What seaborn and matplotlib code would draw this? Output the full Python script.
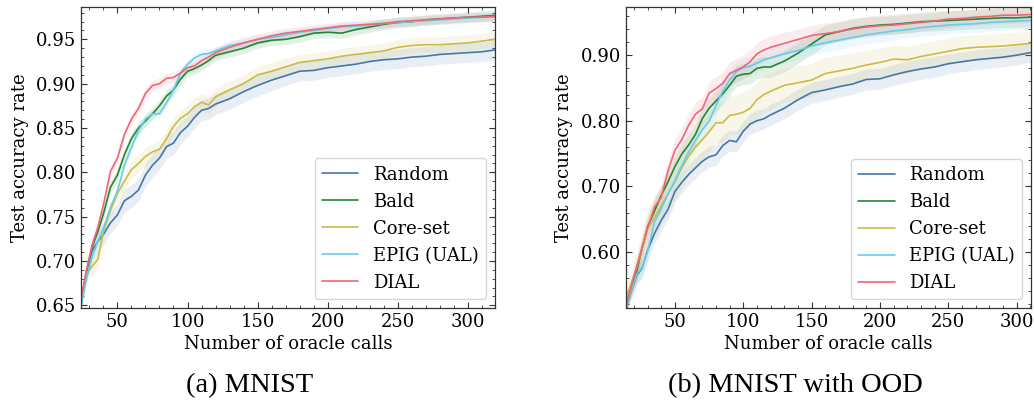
import numpy as np
import pandas as pd
import matplotlib
matplotlib.use("Agg")
import matplotlib.pyplot as plt
from matplotlib.ticker import MultipleLocator
import seaborn as sns

# ---------------- data ----------------
methods = ["Random", "Bald", "Core-set", "EPIG (UAL)", "DIAL"]
colors = ["#4477AA", "#228833", "#CCBB44", "#66CCEE", "#EE6677"]

# Panel (a) MNIST
x_a = [24, 28, 32, 36, 40, 45, 50, 55, 60, 65, 70, 75, 80, 85, 90, 95, 100, 105, 110, 115,
       120, 130, 140, 150, 160, 170, 180, 190, 200, 210, 220, 230, 240, 250, 260, 270, 280,
       290, 300, 310, 319]
random_a = [0.650, 0.690, 0.712, 0.722, 0.730, 0.743, 0.752, 0.768, 0.773, 0.780, 0.797, 0.808,
            0.816, 0.829, 0.833, 0.845, 0.852, 0.862, 0.870, 0.872, 0.877, 0.883, 0.891, 0.898,
            0.904, 0.909, 0.914, 0.915, 0.918, 0.920, 0.922, 0.925, 0.927, 0.928, 0.930, 0.931,
            0.933, 0.934, 0.935, 0.936, 0.938]
bald_a = [0.655, 0.688, 0.716, 0.733, 0.753, 0.783, 0.797, 0.820, 0.838, 0.850, 0.858, 0.866,
          0.875, 0.886, 0.893, 0.905, 0.914, 0.917, 0.921, 0.926, 0.932, 0.936, 0.940, 0.946,
          0.949, 0.950, 0.953, 0.957, 0.958, 0.957, 0.961, 0.964, 0.967, 0.969, 0.970, 0.972,
          0.973, 0.974, 0.975, 0.976, 0.977]
coreset_a = [0.655, 0.685, 0.694, 0.702, 0.733, 0.757, 0.776, 0.790, 0.803, 0.810, 0.818, 0.823,
             0.826, 0.838, 0.852, 0.861, 0.866, 0.874, 0.879, 0.876, 0.885, 0.893, 0.900, 0.910,
             0.914, 0.919, 0.924, 0.926, 0.928, 0.931, 0.933, 0.935, 0.937, 0.941, 0.943, 0.944,
             0.944, 0.945, 0.946, 0.948, 0.950]
epig_a = [0.648, 0.680, 0.705, 0.722, 0.737, 0.760, 0.779, 0.808, 0.828, 0.847, 0.860, 0.866,
          0.866, 0.878, 0.893, 0.912, 0.922, 0.929, 0.933, 0.934, 0.937, 0.943, 0.946, 0.950,
          0.952, 0.955, 0.958, 0.960, 0.962, 0.964, 0.965, 0.966, 0.968, 0.969, 0.970, 0.971,
          0.972, 0.973, 0.974, 0.975, 0.975]
dial_a = [0.658, 0.690, 0.718, 0.738, 0.763, 0.801, 0.816, 0.843, 0.860, 0.872, 0.889, 0.898,
          0.900, 0.906, 0.907, 0.912, 0.918, 0.920, 0.926, 0.930, 0.935, 0.941, 0.946, 0.950,
          0.954, 0.957, 0.959, 0.961, 0.963, 0.965, 0.966, 0.967, 0.968, 0.970, 0.971, 0.972,
          0.973, 0.974, 0.975, 0.975, 0.976]
# std bands (a)
random_a_sd = [0.006, 0.010, 0.012, 0.012, 0.012, 0.012, 0.012, 0.013, 0.013, 0.013, 0.013, 0.013,
               0.013, 0.013, 0.013, 0.013, 0.012, 0.012, 0.012, 0.012, 0.012, 0.012, 0.012, 0.012,
               0.012, 0.011, 0.011, 0.011, 0.011, 0.011, 0.011, 0.011, 0.011, 0.011, 0.011, 0.011,
               0.011, 0.011, 0.011, 0.011, 0.011]
bald_a_sd = [0.004, 0.006, 0.007, 0.007, 0.007, 0.007, 0.007, 0.007, 0.007, 0.007, 0.007, 0.007,
             0.007, 0.007, 0.007, 0.007, 0.006, 0.006, 0.006, 0.006, 0.006, 0.006, 0.006, 0.006,
             0.006, 0.006, 0.006, 0.006, 0.006, 0.006, 0.006, 0.006, 0.006, 0.006, 0.006, 0.006,
             0.006, 0.006, 0.006, 0.006, 0.006]
coreset_a_sd = [0.006, 0.009, 0.010, 0.010, 0.010, 0.010, 0.010, 0.010, 0.010, 0.010, 0.010, 0.010,
                0.010, 0.010, 0.010, 0.010, 0.010, 0.010, 0.010, 0.010, 0.010, 0.010, 0.010, 0.010,
                0.010, 0.010, 0.009, 0.009, 0.009, 0.009, 0.009, 0.009, 0.009, 0.009, 0.009, 0.009,
                0.009, 0.009, 0.009, 0.009, 0.009]
epig_a_sd = [0.004, 0.005, 0.005, 0.005, 0.005, 0.005, 0.005, 0.005, 0.005, 0.005, 0.005, 0.005,
             0.005, 0.005, 0.005, 0.005, 0.005, 0.005, 0.005, 0.005, 0.005, 0.005, 0.005, 0.005,
             0.005, 0.005, 0.005, 0.005, 0.005, 0.005, 0.005, 0.005, 0.005, 0.005, 0.005, 0.005,
             0.005, 0.005, 0.005, 0.005, 0.005]
dial_a_sd = [0.004, 0.006, 0.006, 0.006, 0.006, 0.006, 0.006, 0.006, 0.006, 0.006, 0.006, 0.006,
             0.006, 0.006, 0.006, 0.006, 0.006, 0.006, 0.006, 0.006, 0.006, 0.006, 0.006, 0.006,
             0.006, 0.006, 0.005, 0.005, 0.005, 0.005, 0.005, 0.005, 0.005, 0.005, 0.005, 0.005,
             0.005, 0.005, 0.005, 0.005, 0.005]

# Panel (b) MNIST with OOD
x_b = [14, 18, 22, 26, 30, 35, 40, 45, 50, 55, 60, 65, 70, 75, 80, 85, 90, 95, 100, 105, 110,
       115, 120, 130, 140, 150, 160, 170, 180, 190, 200, 210, 220, 230, 240, 250, 260, 270, 280,
       290, 300, 310]
random_b = [0.512, 0.540, 0.564, 0.575, 0.602, 0.628, 0.648, 0.665, 0.692, 0.706, 0.718, 0.728,
            0.738, 0.745, 0.748, 0.762, 0.770, 0.768, 0.784, 0.795, 0.800, 0.803, 0.809, 0.819,
            0.832, 0.843, 0.847, 0.852, 0.856, 0.863, 0.864, 0.870, 0.875, 0.879, 0.882, 0.887,
            0.890, 0.893, 0.895, 0.897, 0.900, 0.904]
bald_b = [0.518, 0.545, 0.570, 0.605, 0.638, 0.662, 0.686, 0.707, 0.730, 0.749, 0.763, 0.779,
          0.803, 0.819, 0.830, 0.841, 0.854, 0.868, 0.871, 0.872, 0.880, 0.882, 0.882, 0.891,
          0.903, 0.917, 0.931, 0.936, 0.941, 0.944, 0.946, 0.947, 0.949, 0.951, 0.952, 0.953,
          0.954, 0.955, 0.956, 0.957, 0.957, 0.958]
coreset_b = [0.528, 0.552, 0.576, 0.605, 0.636, 0.652, 0.670, 0.688, 0.707, 0.728, 0.746, 0.760,
             0.771, 0.783, 0.797, 0.797, 0.808, 0.810, 0.813, 0.819, 0.832, 0.840, 0.845, 0.854,
             0.858, 0.862, 0.872, 0.876, 0.880, 0.885, 0.889, 0.894, 0.893, 0.898, 0.902, 0.906,
             0.910, 0.912, 0.913, 0.914, 0.916, 0.918]
epig_b = [0.512, 0.540, 0.566, 0.576, 0.600, 0.645, 0.665, 0.688, 0.709, 0.731, 0.752, 0.770,
          0.786, 0.799, 0.823, 0.845, 0.862, 0.875, 0.881, 0.883, 0.888, 0.893, 0.896, 0.902,
          0.907, 0.914, 0.919, 0.923, 0.927, 0.931, 0.934, 0.937, 0.939, 0.942, 0.944, 0.946,
          0.947, 0.948, 0.950, 0.951, 0.952, 0.953]
dial_b = [0.514, 0.547, 0.577, 0.607, 0.635, 0.668, 0.683, 0.724, 0.755, 0.771, 0.793, 0.810,
          0.818, 0.842, 0.849, 0.857, 0.872, 0.877, 0.882, 0.890, 0.902, 0.908, 0.912, 0.918,
          0.924, 0.930, 0.933, 0.936, 0.940, 0.943, 0.945, 0.946, 0.948, 0.950, 0.952, 0.955,
          0.956, 0.958, 0.959, 0.961, 0.961, 0.962]
# std bands (b)
random_b_sd = [0.010, 0.012, 0.014, 0.015, 0.016, 0.016, 0.016, 0.016, 0.016, 0.016, 0.016, 0.016,
               0.016, 0.016, 0.016, 0.016, 0.016, 0.016, 0.016, 0.016, 0.016, 0.016, 0.016, 0.016,
               0.016, 0.016, 0.016, 0.016, 0.016, 0.016, 0.016, 0.016, 0.016, 0.016, 0.016, 0.015,
               0.015, 0.015, 0.015, 0.015, 0.015, 0.015]
bald_b_sd = [0.010, 0.012, 0.014, 0.015, 0.016, 0.016, 0.016, 0.016, 0.016, 0.016, 0.016, 0.016,
             0.016, 0.016, 0.016, 0.016, 0.016, 0.016, 0.016, 0.016, 0.016, 0.016, 0.016, 0.016,
             0.016, 0.016, 0.015, 0.015, 0.015, 0.015, 0.015, 0.015, 0.015, 0.015, 0.015, 0.015,
             0.015, 0.015, 0.015, 0.015, 0.015, 0.015]
coreset_b_sd = [0.015, 0.020, 0.025, 0.028, 0.030, 0.030, 0.030, 0.030, 0.030, 0.030, 0.030, 0.030,
                0.030, 0.030, 0.030, 0.030, 0.030, 0.030, 0.030, 0.030, 0.028, 0.028, 0.028, 0.026,
                0.026, 0.025, 0.025, 0.024, 0.023, 0.022, 0.022, 0.021, 0.021, 0.020, 0.020, 0.020,
                0.020, 0.019, 0.019, 0.019, 0.019, 0.019]
epig_b_sd = [0.010, 0.012, 0.013, 0.014, 0.015, 0.015, 0.015, 0.015, 0.015, 0.015, 0.015, 0.015,
             0.015, 0.015, 0.015, 0.015, 0.015, 0.015, 0.015, 0.015, 0.015, 0.015, 0.015, 0.014,
             0.014, 0.014, 0.014, 0.014, 0.014, 0.014, 0.014, 0.014, 0.013, 0.013, 0.013, 0.013,
             0.013, 0.013, 0.013, 0.013, 0.013, 0.013]
dial_b_sd = [0.010, 0.013, 0.015, 0.016, 0.017, 0.018, 0.018, 0.018, 0.018, 0.018, 0.018, 0.018,
             0.018, 0.018, 0.018, 0.018, 0.018, 0.018, 0.018, 0.018, 0.017, 0.017, 0.017, 0.017,
             0.016, 0.016, 0.016, 0.015, 0.015, 0.015, 0.014, 0.014, 0.014, 0.013, 0.013, 0.013,
             0.012, 0.012, 0.012, 0.012, 0.012, 0.012]

x_label = "Number of oracle calls"
y_label = "Test accuracy rate"
captions = ["(a) MNIST", "(b) MNIST with OOD"]

# ---------------- style ----------------
sns.set_theme(style="ticks")
plt.rcParams.update({
    "font.family": ["DejaVu Serif"],
    "font.size": 13,
    "text.color": "black", "axes.labelcolor": "black",
    "xtick.direction": "in", "ytick.direction": "in",
    "xtick.top": True, "ytick.right": True,
    "xtick.minor.visible": True, "ytick.minor.visible": True,
    "xtick.major.size": 4, "ytick.major.size": 4,
    "xtick.minor.size": 2, "ytick.minor.size": 2,
    "xtick.major.width": 0.8, "ytick.major.width": 0.8,
    "xtick.minor.width": 0.6, "ytick.minor.width": 0.6,
    "axes.linewidth": 0.9,
    "axes.edgecolor": "#333333",
    "xtick.color": "#333333", "ytick.color": "#333333",
    "xtick.labelcolor": "black", "ytick.labelcolor": "black",
    "xtick.labelsize": 13, "ytick.labelsize": 13,
    "axes.labelsize": 13, "legend.fontsize": 13,
})

fig = plt.figure(figsize=(10.34, 4.07), dpi=100)
ax_a = fig.add_axes([0.0783, 0.2432, 0.4000, 0.7403])
ax_b = fig.add_axes([0.6051, 0.2425, 0.3920, 0.7395])

panels = [
    (ax_a, x_a, [random_a, bald_a, coreset_a, epig_a, dial_a],
     [random_a_sd, bald_a_sd, coreset_a_sd, epig_a_sd, dial_a_sd],
     (24, 319), (0.647, 0.9868), 0.05, 0.01, "%.2f"),
    (ax_b, x_b, [random_b, bald_b, coreset_b, epig_b, dial_b],
     [random_b_sd, bald_b_sd, coreset_b_sd, epig_b_sd, dial_b_sd],
     (14, 310.5), (0.514, 0.973), 0.10, 0.02, "%.2f"),
]

for ax, xs, ys, sds, xlim, ylim, ymaj, ymin, fmt in panels:
    frames = []
    for m, y in zip(methods, ys):
        frames.append(pd.DataFrame({"x": xs, "y": y, "method": m}))
    df = pd.concat(frames, ignore_index=True)
    for m, y, sd, c in zip(methods, ys, sds, colors):
        y = np.asarray(y); sd = np.asarray(sd)
        ax.fill_between(xs, y - sd, y + sd, color=c, alpha=0.12, linewidth=0)
    sns.lineplot(data=df, x="x", y="y", hue="method", hue_order=methods,
                 palette=colors, linewidth=1.2, ax=ax, errorbar=None, legend=False)
    ax.set_xlim(*xlim)
    ax.set_ylim(*ylim)
    ax.xaxis.set_major_locator(MultipleLocator(50))
    ax.xaxis.set_minor_locator(MultipleLocator(10))
    ax.yaxis.set_major_locator(MultipleLocator(ymaj))
    ax.yaxis.set_minor_locator(MultipleLocator(ymin))
    ax.yaxis.set_major_formatter(matplotlib.ticker.FormatStrFormatter(fmt))
    ax.set_xlabel(x_label, labelpad=3)
    ax.set_ylabel(y_label, labelpad=5)
    handles = [plt.Line2D([], [], color=c, linewidth=1.2) for c in colors]
    ax.legend(handles, methods, loc="lower right", frameon=True, fancybox=True,
              framealpha=0.8, edgecolor="#cccccc")

fig.text(0.241, 0.053, captions[0], ha="center", va="center", color="black",
         family=["Liberation Serif"], fontsize=20.5)
fig.text(0.769, 0.053, captions[1], ha="center", va="center", color="black",
         family=["Liberation Serif"], fontsize=20.5)

fig.savefig("out.png", dpi=100)
